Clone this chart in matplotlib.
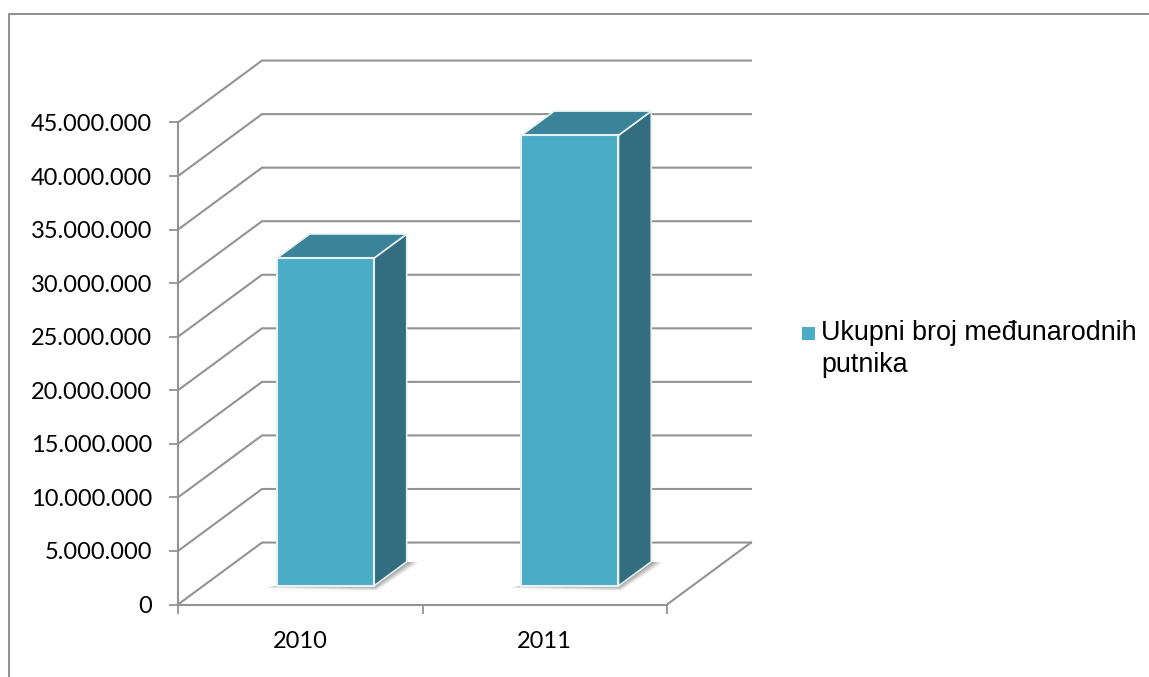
import matplotlib
matplotlib.use('Agg')

import matplotlib.pyplot as plt
from matplotlib.lines import Line2D
from matplotlib.patches import Polygon, Rectangle

W, H = 1149, 677

# data
years = ['2010', '2011']
passengers = [30600000, 42070000]
y_ticks = [0, 5000000, 10000000, 15000000, 20000000, 25000000, 30000000, 35000000, 40000000, 45000000]
legend_label = 'Ukupni broj međunarodnih\nputnika'

GRID = '#939393'
FRONT = '#4bacc6'
SIDE = '#326e80'
TOP = '#3a8398'

fig = plt.figure(figsize=(W / 100, H / 100), dpi=100, facecolor='white')

# front plane of the fake 3D chart
left, right, bottom, top = 178, 667, 604.5, 122.5
ax = fig.add_axes([left / W, 1 - bottom / H, (right - left) / W, (bottom - top) / H])
ax.set_xlim(0, len(years))
ax.set_ylim(0, 45000000)
ax.patch.set_visible(False)

# depth of the chart box in data units
dx = 84 / 244.5
dy = 62 / 53.6 * 5000000

for s in ['top', 'right']:
    ax.spines[s].set_visible(False)
for s in ['left', 'bottom']:
    ax.spines[s].set_color(GRID)
    ax.spines[s].set_linewidth(1.5)

ax.set_yticks(y_ticks)
ax.set_yticklabels([f'{v:,}'.replace(',', '.') for v in y_ticks], family='Lato', fontsize=17, color='black')
ax.set_xticks(range(len(years) + 1))
ax.set_xticklabels([])
ax.set_xticks([i + 0.5 for i in range(len(years))], labels=years, minor=True, family='Lato', fontsize=17)
ax.tick_params(axis='y', length=6.5, width=1.3, color=GRID, pad=12)
ax.tick_params(axis='x', length=6.5, width=1.3, color=GRID)
ax.tick_params(axis='x', which='minor', length=0, pad=19)

# walls and floor
for v in y_ticks:
    ax.plot([0, dx, len(years) + dx], [v, v + dy, v + dy], color=GRID, lw=1.5, clip_on=False, zorder=1)
ax.plot([len(years), len(years) + dx], [0, dy], color=GRID, lw=1.5, clip_on=False, zorder=1)

# bars sit in the middle of the depth
width = 0.397
d0, d1 = 0.30, 0.69
for i, v in enumerate(passengers):
    x0 = i + 0.5 - width / 2 + d0 * dx
    x1 = x0 + width
    y0 = d0 * dy
    y1 = y0 + v
    ox = (d1 - d0) * dx
    oy = (d1 - d0) * dy

    # soft shadow on the floor
    for k, a in zip([4, 3, 2, 1], [0.14, 0.2, 0.28, 0.4]):
        sx = k * 0.012
        sy = k * 110000
        ax.add_patch(Polygon([(x0 - sx, y0 - sy * 0.4), (x1 + sx * 0.2, y0 - sy), (x1 + ox + sx, y0 + oy - sy * 0.2),
                              (x1 + ox, y0 + oy), (x0, y0)],
                             closed=True, fc='#777777', ec='none', alpha=a, clip_on=False, zorder=2))

    ax.add_patch(Polygon([(x1, y0), (x1 + ox, y0 + oy), (x1 + ox, y1 + oy), (x1, y1)], closed=True,
                         fc=SIDE, ec='#e8f0f2', lw=1.2, clip_on=False, zorder=3))
    ax.add_patch(Polygon([(x0, y1), (x1, y1), (x1 + ox, y1 + oy), (x0 + ox, y1 + oy)], closed=True,
                         fc=TOP, ec='#e8f0f2', lw=1.2, clip_on=False, zorder=3))
    ax.add_patch(Rectangle((x0, y0), width, v, fc=FRONT, ec='#e8f0f2', lw=1.5, clip_on=False, zorder=4))

# legend
fig.add_artist(Rectangle((802 / W, 1 - 340 / H), 13 / W, 13 / H, transform=fig.transFigure, fc=FRONT, ec='none'))
fig.text(821 / W, 1 - 349 / H, legend_label, family='Liberation Sans', fontsize=19.4, va='center', ha='left',
         color='black', linespacing=1.27, multialignment='left')

# outer frame, only top and left are in the picture
fig.add_artist(Line2D([8.5 / W, 8.5 / W, 1], [0, 1 - 14 / H, 1 - 14 / H], color='#868686', lw=1.3))

fig.savefig('out.png', dpi=100)
